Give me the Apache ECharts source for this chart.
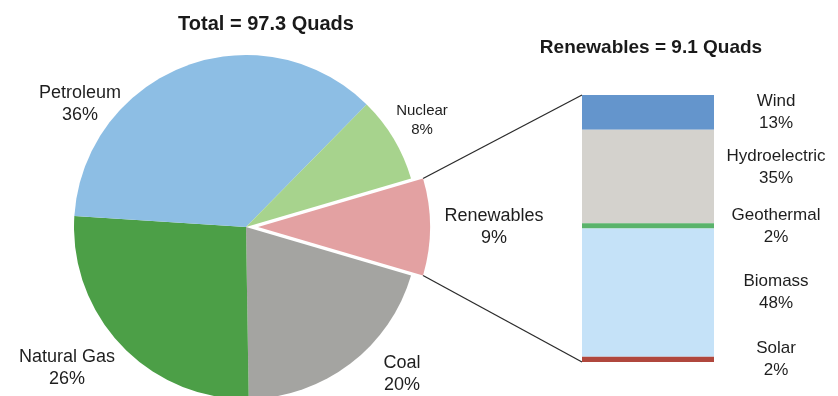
<!DOCTYPE html>
<html><head><meta charset="utf-8">
<script src="https://cdn.jsdelivr.net/npm/echarts@6/dist/echarts.min.js"></script>
<style>html,body{margin:0;padding:0;background:#fff}#c{width:838px;height:396px}</style>
</head><body><div id="c"></div>
<script>
// ---- data ----
const pieNames = ['Renewables', 'Coal', 'Natural Gas', 'Petroleum', 'Nuclear'];
const pieValues = [9, 20, 26, 36, 8];
const barNames = ['Wind', 'Hydroelectric', 'Geothermal', 'Biomass', 'Solar'];
const barValues = [13, 35, 2, 48, 2];
const pieTitle = 'Total = 97.3 Quads';
const barTitle = 'Renewables = 9.1 Quads';

// ---- styles / layout ----
const FONT = "'Liberation Sans', Arial, Helvetica, sans-serif";
const pieColors = { 'Renewables': '#E3A1A2', 'Coal': '#A4A4A1', 'Natural Gas': '#4C9F47', 'Petroleum': '#8DBEE4', 'Nuclear': '#A7D38D' };
const barColors = { 'Wind': '#6495CC', 'Hydroelectric': '#D4D2CD', 'Geothermal': '#5AB36B', 'Biomass': '#C5E2F8', 'Solar': '#B0473D' };
const pieLabelPos = { 'Renewables': [494, 227], 'Coal': [402, 374], 'Natural Gas': [67, 368], 'Petroleum': [80, 104], 'Nuclear': [422, 120] };
const barLabelOffset = { 'Hydroelectric': [0, -9] };
const CX = 246, CY = 227, R = 172, EXPLODE = 12;
const GRID = { left: 582, top: 95, width: 132, height: 267 };

const total = pieValues.reduce((a, b) => a + b, 0);
const startAngle = pieValues[0] / total * 360 / 2;

const chart = echarts.init(document.getElementById('c'), null, { renderer: 'canvas' });

const barSeries = barNames.map((n, i) => ({
  name: n,
  type: 'bar',
  stack: 'ren',
  barWidth: '100%',
  data: [barValues[i]],
  itemStyle: { color: barColors[n] },
  label: {
    show: true,
    position: 'right',
    distance: 62,
    align: 'center',
    verticalAlign: 'middle',
    offset: barLabelOffset[n] || [0, 0],
    formatter: p => p.seriesName + '\n' + p.value + '%',
    fontFamily: FONT,
    fontSize: 17,
    lineHeight: 22,
    color: '#1e1e1e'
  }
}));

chart.setOption({
  animation: false,
  backgroundColor: '#ffffff',
  grid: Object.assign({ containLabel: false }, GRID),
  xAxis: { type: 'category', data: ['Renewables'], show: false },
  yAxis: { type: 'value', min: 0, max: 100, inverse: true, show: false },
  series: [
    {
      type: 'pie',
      center: [CX, CY],
      radius: [0, R],
      startAngle: startAngle,
      clockwise: true,
      selectedMode: 'single',
      selectedOffset: EXPLODE,
      data: pieNames.map((n, i) => ({
        name: n,
        value: pieValues[i],
        selected: i === 0,
        itemStyle: { color: pieColors[n] }
      })),
      label: { show: false },
      labelLine: { show: false },
      emphasis: { disabled: true }
    }
  ].concat(barSeries)
});

// connector lines from exploded slice edges to bar corners
const a = startAngle * Math.PI / 180;
const topPie = [CX + EXPLODE + R * Math.cos(a), CY - R * Math.sin(a)];
const botPie = [CX + EXPLODE + R * Math.cos(a), CY + R * Math.sin(a)];
const yTop = chart.convertToPixel({ yAxisIndex: 0 }, 0);
const yBot = chart.convertToPixel({ yAxisIndex: 0 }, 100);
const xLeft = GRID.left;

// pie slice labels (text built from the data arrays)
const pieLabels = pieNames.map((n, i) => {
  const small = n === 'Nuclear';
  return {
    type: 'text',
    x: pieLabelPos[n][0],
    y: pieLabelPos[n][1],
    style: {
      text: n + '\n' + pieValues[i] + '%',
      font: (small ? 15 : 18) + 'px ' + FONT,
      lineHeight: small ? 19 : 22,
      fill: '#1e1e1e',
      textAlign: 'center',
      textVerticalAlign: 'middle'
    }
  };
});

chart.setOption({
  graphic: [
    { type: 'line', shape: { x1: topPie[0], y1: topPie[1], x2: xLeft, y2: yTop }, style: { stroke: '#2b2b2b', lineWidth: 1.3 } },
    { type: 'line', shape: { x1: botPie[0], y1: botPie[1], x2: xLeft, y2: yBot }, style: { stroke: '#2b2b2b', lineWidth: 1.3 } },
    { type: 'text', x: 266, y: 24, style: { text: pieTitle, font: 'bold 20px ' + FONT, fill: '#1a1a1a', textAlign: 'center', textVerticalAlign: 'middle' } },
    { type: 'text', x: 651, y: 48, style: { text: barTitle, font: 'bold 19px ' + FONT, fill: '#1a1a1a', textAlign: 'center', textVerticalAlign: 'middle' } }
  ].concat(pieLabels)
});
</script>
</body></html>
